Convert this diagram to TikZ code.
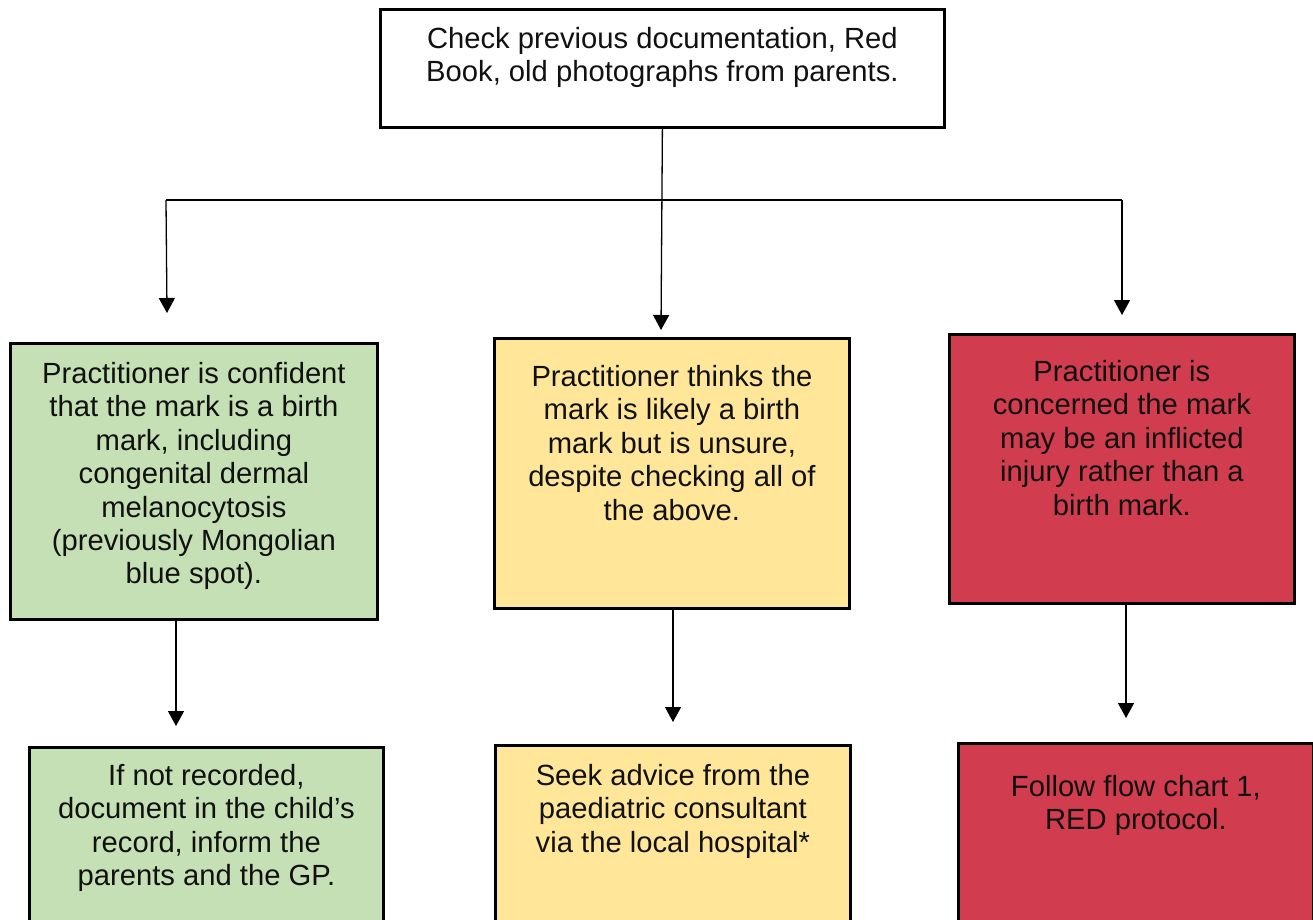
\documentclass[tikz,border=0pt]{standalone}
\usepackage{fontspec}
\setmainfont{Liberation Sans}
\usetikzlibrary{arrows.meta,calc}
\definecolor{gfill}{HTML}{C5E0B4}
\definecolor{yfill}{HTML}{FFE699}
\definecolor{rfill}{HTML}{D13C4F}
\definecolor{ink}{HTML}{111111}
\newcommand\boxtxt[4]{\parbox[c][#2pt][t]{#1pt}{\centering\vspace*{#3pt}\strut #4\par}}
\tikzset{
  box/.style={draw=black, line width=2.8pt, inner sep=0pt, anchor=north west,
    text=ink, font=\fontsize{29.2}{33.4}\selectfont},
  conn/.style={line width=1.3pt, draw=black},
  arr/.style={conn, -{Triangle[width=16pt,length=15pt]}},
}
\begin{document}
\begin{tikzpicture}[x=1pt,y=-1pt]
\useasboundingbox (0,0) rectangle (1313,919);
\clip (0,0) rectangle (1313,919);
\fill[white] (0,0) rectangle (1313,919);

\node[box, fill=white] (top) at (379,8)
  {\boxtxt{564}{118}{15.7}{Check previous documentation, Red\\Book, old photographs from parents.}};

\node[box, fill=gfill] (g1) at (9,342)
  {\boxtxt{367}{276}{16.7}{Practitioner is confident\\that the mark is a birth\\mark, including\\congenital dermal\\melanocytosis\\(previously Mongolian\\blue spot).}};
\node[box, fill=yfill] (y1) at (493,337)
  {\boxtxt{355}{270}{24.7}{Practitioner thinks the\\mark is likely a birth\\mark but is unsure,\\despite checking all of\\the above.}};
\node[box, fill=rfill] (r1) at (948,333)
  {\boxtxt{345}{269}{23.7}{Practitioner is\\concerned the mark\\may be an inflicted\\injury rather than a\\birth mark.}};

\node[box, fill=gfill] (g2) at (28,746)
  {\boxtxt{354}{200}{14.7}{If not recorded,\\document in the child’s\\record, inform the\\parents and the GP.}};
\node[box, fill=yfill] (y2) at (494,744)
  {\boxtxt{355}{200}{16.7}{Seek advice from the\\paediatric consultant\\via the local hospital*}};
\node[box, fill=rfill] (r2) at (957,742)
  {\boxtxt{355}{200}{29.7}{Follow flow chart 1,\\RED protocol.}};

% connectors
\coordinate (hl) at (166,200);
\coordinate (hr) at (1122,200);
\coordinate (tipG) at (167,313);
\coordinate (tipY) at (661,330);
\coordinate (tipR) at (1122,315);
\coordinate (tipG2) at (176,726);
\coordinate (tipY2) at (673,722);
\coordinate (tipR2) at (1126,718);

\draw[conn] (hl) -- (hr);
\draw[arr] (hl) -- (tipG);
\draw[arr] (top.south) -- (tipY);
\draw[arr] (hr) -- (tipR);
\draw[arr] (g1.south -| tipG2) -- (tipG2);
\draw[arr] (y1.south -| tipY2) -- (tipY2);
\draw[arr] (r1.south -| tipR2) -- (tipR2);
\end{tikzpicture}
\end{document}
